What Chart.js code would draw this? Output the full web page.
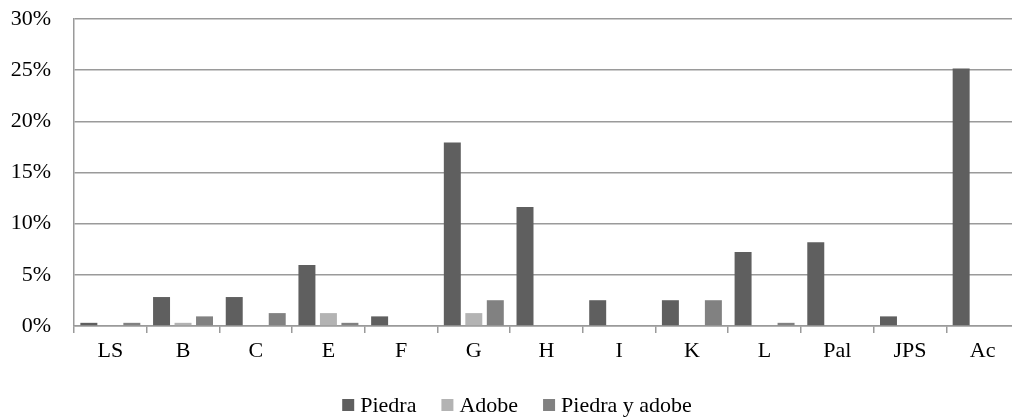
<!DOCTYPE html>
<html>
<head>
<meta charset="utf-8">
<script src="https://cdn.jsdelivr.net/npm/chart.js@4/dist/chart.umd.min.js"></script>
<style>
html,body{margin:0;padding:0;background:#fff;overflow:hidden;width:1012px;height:419px;}
#wrap{width:1019px;height:419px;position:relative;}
</style>
</head>
<body>
<div id="wrap"><canvas id="c" width="1019" height="419"></canvas></div>
<script>
const categories = ['LS','B','C','E','F','G','H','I','K','L','Pal','JPS','Ac'];
const piedra = [0.31, 2.83, 2.83, 5.97, 0.94, 17.92, 11.64, 2.52, 2.52, 7.23, 8.18, 0.94, 25.16];
const adobe = [0, 0.31, 0, 1.26, 0, 1.26, 0, 0, 0, 0, 0, 0, 0];
const piedraAdobe = [0.31, 0.94, 1.26, 0.31, 0, 2.52, 0, 0, 2.52, 0.31, 0, 0, 0];
const seriesNames = ['Piedra','Adobe','Piedra y adobe'];
const yTicks = [0, 5, 10, 15, 20, 25, 30];

const FONT = "'Liberation Serif', 'Times New Roman', serif";
const FS = 22;

const legendPlugin = {
  id: 'customLegend',
  afterDraw(chart) {
    const ctx = chart.ctx;
    ctx.save();
    ctx.font = FS + 'px ' + FONT;
    ctx.textBaseline = 'middle';
    ctx.textAlign = 'left';
    const box = 12, gap = 6, spacing = 25;
    const items = chart.data.datasets.map(d => ({label: d.label, color: d.backgroundColor, w: ctx.measureText(d.label).width}));
    let total = 0;
    items.forEach((it, i) => { total += box + gap + it.w + (i < items.length - 1 ? spacing : 0); });
    let x = 517 - total / 2;
    const cy = 405;
    items.forEach(it => {
      ctx.fillStyle = it.color;
      ctx.fillRect(x, cy - box / 2, box, box);
      ctx.fillStyle = '#000';
      ctx.fillText(it.label, x + box + gap, cy + 1);
      x += box + gap + it.w + spacing;
    });
    ctx.restore();
  }
};

new Chart(document.getElementById('c'), {
  type: 'bar',
  data: {
    labels: categories,
    datasets: [
      {label: seriesNames[0], data: piedra, backgroundColor: '#5f5f5f'},
      {label: seriesNames[1], data: adobe, backgroundColor: '#b3b3b3'},
      {label: seriesNames[2], data: piedraAdobe, backgroundColor: '#818181'}
    ]
  },
  options: {
    responsive: false,
    animation: false,
    devicePixelRatio: 1,
    layout: {padding: {top: 19, left: 0, right: 0, bottom: 0}},
    datasets: {bar: {barPercentage: 0.79, categoryPercentage: 0.887}},
    plugins: {legend: {display: false}, tooltip: {enabled: false}},
    scales: {
      x: {
        grid: {drawOnChartArea: false, drawTicks: true, tickLength: 7, color: '#9a9a9a', lineWidth: 1.5},
        border: {color: '#9a9a9a', width: 1.5},
        ticks: {color: '#000', font: {family: FONT, size: FS}, padding: 5, maxRotation: 0},
        afterFit(s) { s.height = 93; s.paddingLeft = 0; s.paddingRight = 0; }
      },
      y: {
        min: 0, max: 30,
        afterBuildTicks(s) { s.ticks = yTicks.map(v => ({value: v})); },
        grid: {drawTicks: false, color: '#9a9a9a', lineWidth: 1.5},
        border: {color: '#9a9a9a', width: 1.5},
        ticks: {color: '#000', font: {family: FONT, size: FS}, padding: 23, callback: v => v + '%'},
        afterFit(s) { s.width = 74; s.paddingTop = 0; s.paddingBottom = 0; }
      }
    }
  },
  plugins: [legendPlugin]
});
</script>
</body>
</html>
